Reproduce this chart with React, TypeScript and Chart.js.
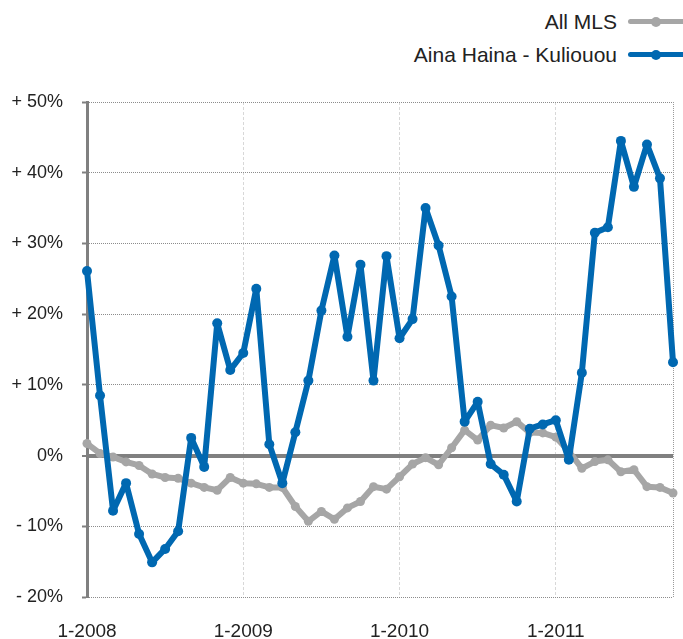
import React, { useEffect, useRef } from "react";
import { Chart, registerables } from "chart.js";

Chart.register(...registerables);

const months: string[] = [];
for (let y = 2008; y <= 2011; y++) {
  for (let m = 1; m <= 12; m++) {
    if (y === 2011 && m > 10) break;
    months.push(`${m}-${y}`);
  }
}

const allMLS = [
  1.7, 0.3, -0.2, -0.9, -1.4, -2.6, -3.1, -3.2, -3.9, -4.5, -4.9, -3.1,
  -3.9, -4.0, -4.5, -4.5, -7.2, -9.3, -7.9, -9.0, -7.4, -6.5, -4.4, -4.75,
  -3.0, -1.2, -0.3, -1.3, 1.1, 3.6, 2.2, 4.3, 3.9, 4.8, 3.25, 3.2,
  2.6, 0.6, -1.8, -0.85, -0.6, -2.3, -2.0, -4.4, -4.5, -5.3,
];

const ainaHaina = [
  26.1, 8.5, -7.8, -3.9, -11.1, -15.1, -13.2, -10.7, 2.5, -1.6, 18.7, 12.1,
  14.5, 23.6, 1.6, -3.9, 3.3, 10.6, 20.5, 28.3, 16.8, 27.0, 10.6, 28.2,
  16.6, 19.3, 35.0, 29.7, 22.5, 4.8, 7.6, -1.2, -2.7, -6.5, 3.8, 4.4,
  5.0, -0.6, 11.7, 31.5, 32.3, 44.5, 38.0, 44.0, 39.2, 13.2,
];

const yTicks = [-20, -10, 0, 10, 20, 30, 40, 50];

const BLUE = "#0068b1";
const GRAY = "#a6a6a6";
const FONT = "'Liberation Sans', Arial, Helvetica, sans-serif";

function fmtPct(v: number): string {
  if (v > 0) return `+ ${v}%`;
  if (v < 0) return `- ${Math.abs(v)}%`;
  return "0%";
}

function LegendRow({ label, color, top }: { label: string; color: string; top: number }) {
  return (
    <div style={{ position: "absolute", top, left: 0, width: 683, height: 30 }}>
      <div
        style={{
          position: "absolute",
          right: 683 - 617,
          top: 0,
          height: 30,
          lineHeight: "30px",
          fontFamily: FONT,
          fontSize: 21,
          color: "#222",
          whiteSpace: "nowrap",
        }}
      >
        {label}
      </div>
      <div
        style={{
          position: "absolute",
          left: 628,
          top: 12,
          width: 58,
          height: 5,
          background: color,
          borderRadius: 3,
        }}
      />
      <div
        style={{
          position: "absolute",
          left: 651,
          top: 9.5,
          width: 10,
          height: 10,
          background: color,
          borderRadius: 5,
        }}
      />
    </div>
  );
}

export default function App() {
  const canvasRef = useRef<HTMLCanvasElement | null>(null);

  useEffect(() => {
    if (!canvasRef.current) return;
    const chart = new Chart(canvasRef.current, {
      type: "line",
      data: {
        labels: months,
        datasets: [
          {
            label: "Aina Haina - Kuliouou",
            data: ainaHaina,
            borderColor: BLUE,
            backgroundColor: BLUE,
            borderWidth: 6,
            pointRadius: 5,
            pointBorderWidth: 0,
            pointBackgroundColor: BLUE,
            borderJoinStyle: "round",
            borderCapStyle: "round",
            tension: 0,
            clip: false,
          },
          {
            label: "All MLS",
            data: allMLS,
            borderColor: GRAY,
            backgroundColor: GRAY,
            borderWidth: 6,
            pointRadius: 4.5,
            pointBorderWidth: 0,
            pointBackgroundColor: GRAY,
            borderJoinStyle: "round",
            borderCapStyle: "round",
            tension: 0,
            clip: false,
          },
        ],
      },
      options: {
        animation: false,
        responsive: false,
        maintainAspectRatio: false,
        layout: { padding: { top: 102, right: 10, left: 0, bottom: 0 } },
        plugins: {
          legend: { display: false },
          tooltip: { enabled: false },
          title: { display: false },
        },
        scales: {
          x: {
            type: "category",
            offset: false,
            afterFit: (scale: any) => {
              scale.height = 42;
              scale.paddingLeft = 0;
              scale.paddingRight = 0;
            },
            border: {
              display: false,
              dash: (ctx: any) => {
                if (ctx.type !== "tick") return [];
                if (ctx.index === months.length - 1) return [1, 1];
                return [3, 2];
              },
            },
            grid: {
              drawTicks: false,
              lineWidth: (ctx: any) => (ctx.index % 12 === 0 || ctx.index === months.length - 1 ? 1 : 0),
              color: (ctx: any) => {
                if (ctx.index === months.length - 1) return "#9a9a9a";
                if (ctx.index % 12 === 0) return "#d8d8d8";
                return "rgba(0,0,0,0)";
              },
            },
            ticks: {
              autoSkip: false,
              maxRotation: 0,
              minRotation: 0,
              padding: 23,
              color: "#222",
              font: { family: FONT, size: 19 },
              callback: (_v: any, i: number) => (i % 12 === 0 ? months[i] : ""),
            },
          },
          y: {
            min: -20,
            max: 50,
            afterFit: (scale: any) => {
              scale.width = 87;
              scale.paddingTop = 0;
              scale.paddingBottom = 0;
            },
            afterBuildTicks: (scale: any) => {
              scale.ticks = yTicks.map((v) => ({ value: v }));
            },
            border: {
              display: true,
              width: 3,
              color: "#808080",
              dash: (ctx: any) => {
                if (ctx.type !== "tick") return [];
                if (ctx.tick && ctx.tick.value === 0) return [];
                return [1, 1];
              },
            },
            grid: {
              drawTicks: true,
              tickLength: 5,
              tickWidth: 2,
              tickColor: "#808080",
              lineWidth: (ctx: any) => (ctx.tick && ctx.tick.value === 0 ? 4 : 1),
              color: (ctx: any) => (ctx.tick && ctx.tick.value === 0 ? "#808080" : "#8c8c8c"),
            },
            ticks: {
              padding: 19,
              color: "#222",
              font: { family: FONT, size: 18 },
              callback: (v: any) => fmtPct(Number(v)),
            },
          },
        },
      },
    });
    return () => chart.destroy();
  }, []);

  return (
    <div style={{ position: "fixed", left: 0, top: 0, width: 683, height: 639, background: "#fff", overflow: "hidden" }}>
      <LegendRow label="All MLS" color={GRAY} top={7} />
      <LegendRow label="Aina Haina - Kuliouou" color={BLUE} top={40} />
      <canvas
        ref={canvasRef}
        width={683}
        height={639}
        style={{ position: "absolute", left: 0, top: 0, width: 683, height: 639 }}
      />
    </div>
  );
}
